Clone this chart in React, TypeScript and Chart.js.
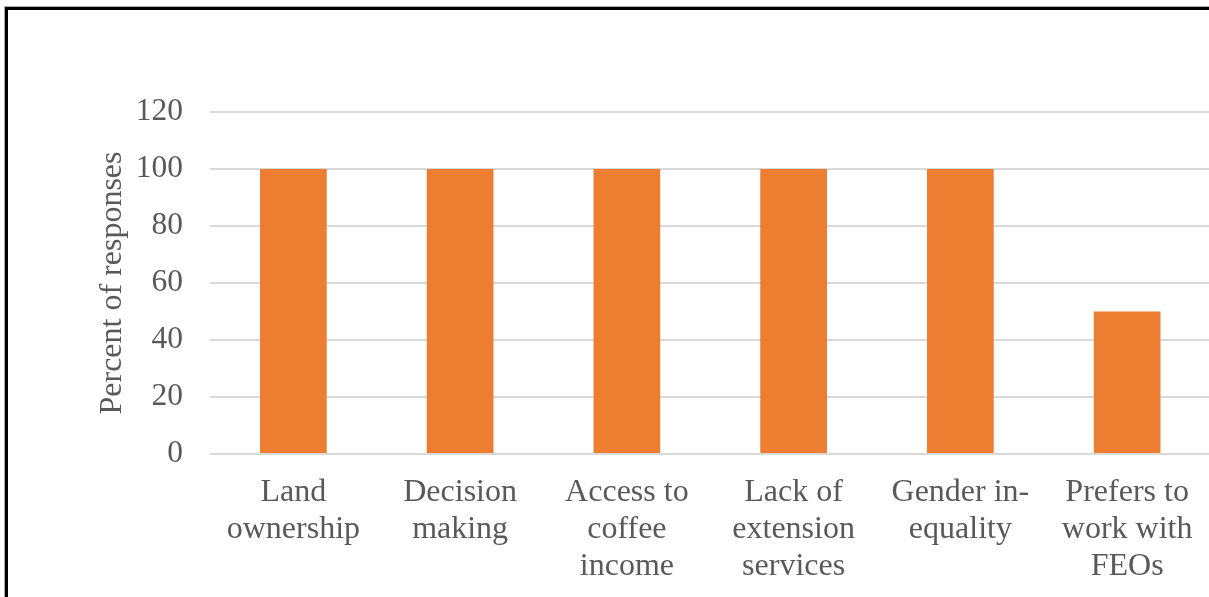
import React, { useEffect, useRef } from "react";
import { Chart, registerables } from "chart.js";

Chart.register(...registerables);

const categories: string[][] = [
  ["Land", "ownership"],
  ["Decision", "making"],
  ["Access to", "coffee", "income"],
  ["Lack of", "extension", "services"],
  ["Gender in-", "equality"],
  ["Prefers to", "work with", "FEOs"],
];
const percentValues: number[] = [100, 100, 100, 100, 100, 50];
const yMin = 0;
const yMax = 120;
const yStep = 20;
const yTitle = "Percent of responses";

const FONT = "'Liberation Serif', 'Times New Roman', serif";
const TEXT = "#595959";

export default function App() {
  const ref = useRef<HTMLCanvasElement | null>(null);

  useEffect(() => {
    document.body.style.margin = "0";
    if (!ref.current) return;
    const chart = new Chart(ref.current, {
      type: "bar",
      data: {
        labels: categories,
        datasets: [
          {
            data: percentValues,
            backgroundColor: "#ED7D31",
            borderWidth: 0,
            barPercentage: 0.4,
            categoryPercentage: 1,
          },
        ],
      },
      options: {
        animation: false,
        responsive: false,
        maintainAspectRatio: false,
        layout: { padding: { top: 112, right: 4.5, bottom: 0, left: 0 } },
        plugins: { legend: { display: false }, tooltip: { enabled: false } },
        scales: {
          x: {
            grid: { display: false, drawTicks: false },
            border: { display: false },
            ticks: {
              color: TEXT,
              padding: 20,
              maxRotation: 0,
              autoSkip: false,
              font: { family: FONT, size: 32, lineHeight: 1.156 },
            },
            afterFit: (s: any) => {
              s.height = 143;
            },
          },
          y: {
            min: yMin,
            max: yMax,
            ticks: {
              stepSize: yStep,
              color: TEXT,
              padding: 27,
              font: { family: FONT, size: 31.5 },
            },
            grid: { color: "#D9D9D9", lineWidth: 2, drawTicks: false },
            border: { display: false },
            title: {
              display: true,
              text: yTitle,
              color: TEXT,
              font: { family: FONT, size: 32, lineHeight: 1.2 },
              padding: { top: 93, bottom: 0 },
            },
            afterFit: (s: any) => {
              s.width = 210;
            },
          },
        },
      },
    });
    return () => chart.destroy();
  }, []);

  return (
    <div
      style={{
        position: "fixed",
        left: 0,
        top: 0,
        width: 1209,
        height: 597,
        overflow: "hidden",
        background: "#fff",
      }}
    >
      <div
        style={{
          position: "absolute",
          left: 5,
          top: 7,
          width: 1400,
          height: 800,
          borderLeft: "3px solid #000",
          borderTop: "3px solid #000",
          boxShadow: "-1px -1px 0 #aaa",
        }}
      />
      <canvas
        ref={ref}
        width={1215}
        height={597}
        style={{ position: "absolute", left: 0, top: 0, width: 1215, height: 597 }}
      />
    </div>
  );
}
